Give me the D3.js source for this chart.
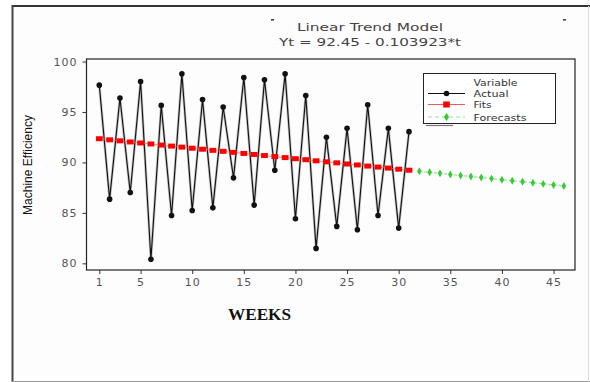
<!DOCTYPE html>
<html>
<head>
<meta charset="utf-8">
<script src="https://cdn.jsdelivr.net/npm/d3@7/dist/d3.min.js"></script>
<style>
  html, body { margin: 0; padding: 0; background: #ffffff; }
  svg { display: block; }
</style>
</head>
<body>
<script>
// Weekly machine efficiency with a fitted linear trend and forecasts
const actualWeeks = [1, 2, 3, 4, 5, 6, 7, 8, 9, 10, 11, 12, 13, 14, 15, 16,
  17, 18, 19, 20, 21, 22, 23, 24, 25, 26, 27, 28, 29, 30, 31];
const actualValues = [97.66, 86.36, 96.38, 87.02, 98.02, 80.40, 95.65, 84.74,
  98.78, 85.24, 96.24, 85.50, 95.49, 88.47, 98.42, 85.77, 98.19, 89.23, 98.78,
  84.42, 96.64, 81.48, 92.49, 83.66, 93.38, 83.33, 95.72, 84.74, 93.38, 83.49, 93.05];
// Trend fits, Yt = 92.45 - 0.103923*t
const fitValues = [92.35, 92.24, 92.14, 92.03, 91.93, 91.83, 91.72, 91.62,
  91.52, 91.41, 91.31, 91.20, 91.10, 91.00, 90.89, 90.79, 90.68, 90.58, 90.48,
  90.37, 90.27, 90.16, 90.06, 89.96, 89.85, 89.75, 89.64, 89.54, 89.44, 89.33, 89.23];
const forecastWeeks = [32, 33, 34, 35, 36, 37, 38, 39, 40, 41, 42, 43, 44, 45, 46];
const forecastValues = [89.12, 89.02, 88.92, 88.81, 88.71, 88.61, 88.50,
  88.40, 88.29, 88.19, 88.09, 87.98, 87.88, 87.77, 87.67];
const xTicks = [1, 5, 10, 15, 20, 25, 30, 35, 40, 45];
const yTicks = [80, 85, 90, 95, 100];
const legendItems = ["Actual", "Fits", "Forecasts"];

const W = 590, H = 382;
const plot = { left: 86.5, right: 575, top: 59, bottom: 270 };

const svg = d3.select("body").append("svg")
  .attr("width", W).attr("height", H);

// page and outer border
svg.append("rect").attr("x", 12).attr("y", 6).attr("width", W - 12).attr("height", H - 6)
  .attr("fill", "#fdfdfd");
svg.append("line").attr("x1", 12).attr("x2", W).attr("y1", 6).attr("y2", 6)
  .attr("stroke", "#333").attr("stroke-width", 2);
svg.append("line").attr("x1", 12.5).attr("x2", 12.5).attr("y1", 5).attr("y2", H)
  .attr("stroke", "#444").attr("stroke-width", 2);
svg.append("line").attr("x1", 12).attr("x2", W).attr("y1", H - 0.5).attr("y2", H - 0.5)
  .attr("stroke", "#999").attr("stroke-width", 1);
svg.append("line").attr("x1", W - 1.5).attr("x2", W - 1.5).attr("y1", 6).attr("y2", H)
  .attr("stroke", "#ddd").attr("stroke-width", 1);
// small stray marks at the top
[[271, 19], [563, 19]].forEach(([mx, my]) => {
  svg.append("rect").attr("x", mx).attr("y", my).attr("width", 3).attr("height", 1.6)
    .attr("fill", "#444");
});

const x = d3.scaleLinear().domain([-0.24, 47.08]).range([plot.left, plot.right]);
const y = d3.scaleLinear().domain([79.34, 100.25]).range([plot.bottom, plot.top]);

// titles
const title = svg.append("g").attr("font-family", "DejaVu Sans, Verdana, sans-serif")
  .attr("fill", "#444").attr("text-anchor", "middle");
title.append("text").attr("x", 370).attr("y", 31).attr("font-size", 11)
  .attr("textLength", 146).attr("lengthAdjust", "spacingAndGlyphs")
  .text("Linear Trend Model");
title.append("text").attr("x", 370).attr("y", 46).attr("font-size", 11)
  .attr("textLength", 182).attr("lengthAdjust", "spacingAndGlyphs")
  .text("Yt = 92.45 - 0.103923*t");

// plot frame
svg.append("rect").attr("x", plot.left).attr("y", plot.top)
  .attr("width", plot.right - plot.left).attr("height", plot.bottom - plot.top)
  .attr("fill", "none").attr("stroke", "#222").attr("stroke-width", 1.2);

// axes
const yAxis = svg.append("g").attr("transform", `translate(${plot.left},0)`)
  .call(d3.axisLeft(y).tickValues(yTicks).tickSize(4).tickPadding(5));
const xAxis = svg.append("g").attr("transform", `translate(0,${plot.bottom})`)
  .call(d3.axisBottom(x).tickValues(xTicks).tickSize(4).tickPadding(4));
[yAxis, xAxis].forEach(g => {
  g.select(".domain").remove();
  g.selectAll(".tick line").attr("stroke", "#333");
  g.selectAll(".tick text").attr("fill", "#555")
    .attr("font-family", "DejaVu Sans, Verdana, sans-serif").attr("font-size", 11)
    .attr("letter-spacing", 1);
});

// axis titles
svg.append("text").attr("transform", "translate(32,165) rotate(-90)")
  .attr("text-anchor", "middle").attr("font-family", "Liberation Sans, Arial, sans-serif")
  .attr("font-size", 12.5).attr("fill", "#111")
  .attr("textLength", 100).attr("lengthAdjust", "spacingAndGlyphs")
  .text("Machine Efficiency");
svg.append("text").attr("x", 259.5).attr("y", 320).attr("text-anchor", "middle")
  .attr("font-family", "Liberation Serif, Times New Roman, serif")
  .attr("font-weight", "bold").attr("font-size", 17).attr("fill", "#111")
  .attr("textLength", 63).attr("lengthAdjust", "spacingAndGlyphs")
  .text("WEEKS");

// series
const actual = actualWeeks.map((w, i) => [w, actualValues[i]]);
const fits = actualWeeks.map((w, i) => [w, fitValues[i]]);
const forecasts = forecastWeeks.map((w, i) => [w, forecastValues[i]]);
const line = d3.line().x(d => x(d[0])).y(d => y(d[1]));

svg.append("path").datum(actual).attr("d", line).attr("fill", "none")
  .attr("stroke", "#999").attr("stroke-width", 2.6).attr("opacity", 0.6);
svg.append("path").datum(actual).attr("d", line).attr("fill", "none")
  .attr("stroke", "#111").attr("stroke-width", 1.1);
svg.append("g").selectAll("circle").data(actual).join("circle")
  .attr("cx", d => x(d[0])).attr("cy", d => y(d[1])).attr("r", 2.8).attr("fill", "#111");

svg.append("path").datum(fits).attr("d", line).attr("fill", "none")
  .attr("stroke", "#f66").attr("stroke-width", 1).attr("opacity", 0.7);
svg.append("g").selectAll("rect").data(fits).join("rect")
  .attr("x", d => x(d[0]) - 3.4).attr("y", d => y(d[1]) - 2.5)
  .attr("width", 6.8).attr("height", 5).attr("fill", "#f00");

svg.append("path").datum(forecasts).attr("d", line).attr("fill", "none")
  .attr("stroke", "#9d9").attr("stroke-width", 1.3).attr("stroke-dasharray", "3,2");
const diamond = d3.symbol().type(d3.symbolDiamond).size(18);
svg.append("g").selectAll("path").data(forecasts).join("path")
  .attr("transform", d => `translate(${x(d[0])},${y(d[1])})`)
  .attr("d", diamond).attr("fill", "#3c3");

// legend
const lg = svg.append("g").attr("font-family", "DejaVu Sans, Verdana, sans-serif")
  .attr("font-size", 9.5).attr("fill", "#333");
lg.append("rect").attr("x", 423.5).attr("y", 73.5).attr("width", 132).attr("height", 50)
  .attr("fill", "#fff").attr("stroke", "#222").attr("stroke-width", 1);
lg.append("line").attr("x1", 426).attr("x2", 453).attr("y1", 125.5).attr("y2", 125.5)
  .attr("stroke", "#777").attr("stroke-width", 1.2);
lg.append("text").attr("x", 473.5).attr("y", 85.5)
  .attr("font-size", 8.5).attr("textLength", 44).attr("lengthAdjust", "spacingAndGlyphs")
  .text("Variable");
const rowY = [93.5, 104.5, 117];
const labelWidths = [35, 18, 53];
const swatchColors = ["#111", "#f55", "#9d9"];
legendItems.forEach((name, i) => {
  const yy = rowY[i];
  lg.append("line").attr("x1", 428).attr("x2", 465).attr("y1", yy).attr("y2", yy)
    .attr("stroke", swatchColors[i]).attr("stroke-width", 1.2)
    .attr("stroke-dasharray", i === 2 ? "4,3" : null);
  if (i === 0) {
    lg.append("circle").attr("cx", 446.5).attr("cy", yy).attr("r", 2.8).attr("fill", "#111");
  } else if (i === 1) {
    lg.append("rect").attr("x", 443.2).attr("y", yy - 3).attr("width", 6.6).attr("height", 6)
      .attr("fill", "#f00");
  } else {
    lg.append("path").attr("transform", `translate(446.5,${yy})`)
      .attr("d", d3.symbol().type(d3.symbolDiamond).size(22)).attr("fill", "#3c3");
  }
  lg.append("text").attr("x", 473.5).attr("y", yy + 3.5)
    .attr("textLength", labelWidths[i]).attr("lengthAdjust", "spacingAndGlyphs")
    .text(name);
});
</script>
</body>
</html>
